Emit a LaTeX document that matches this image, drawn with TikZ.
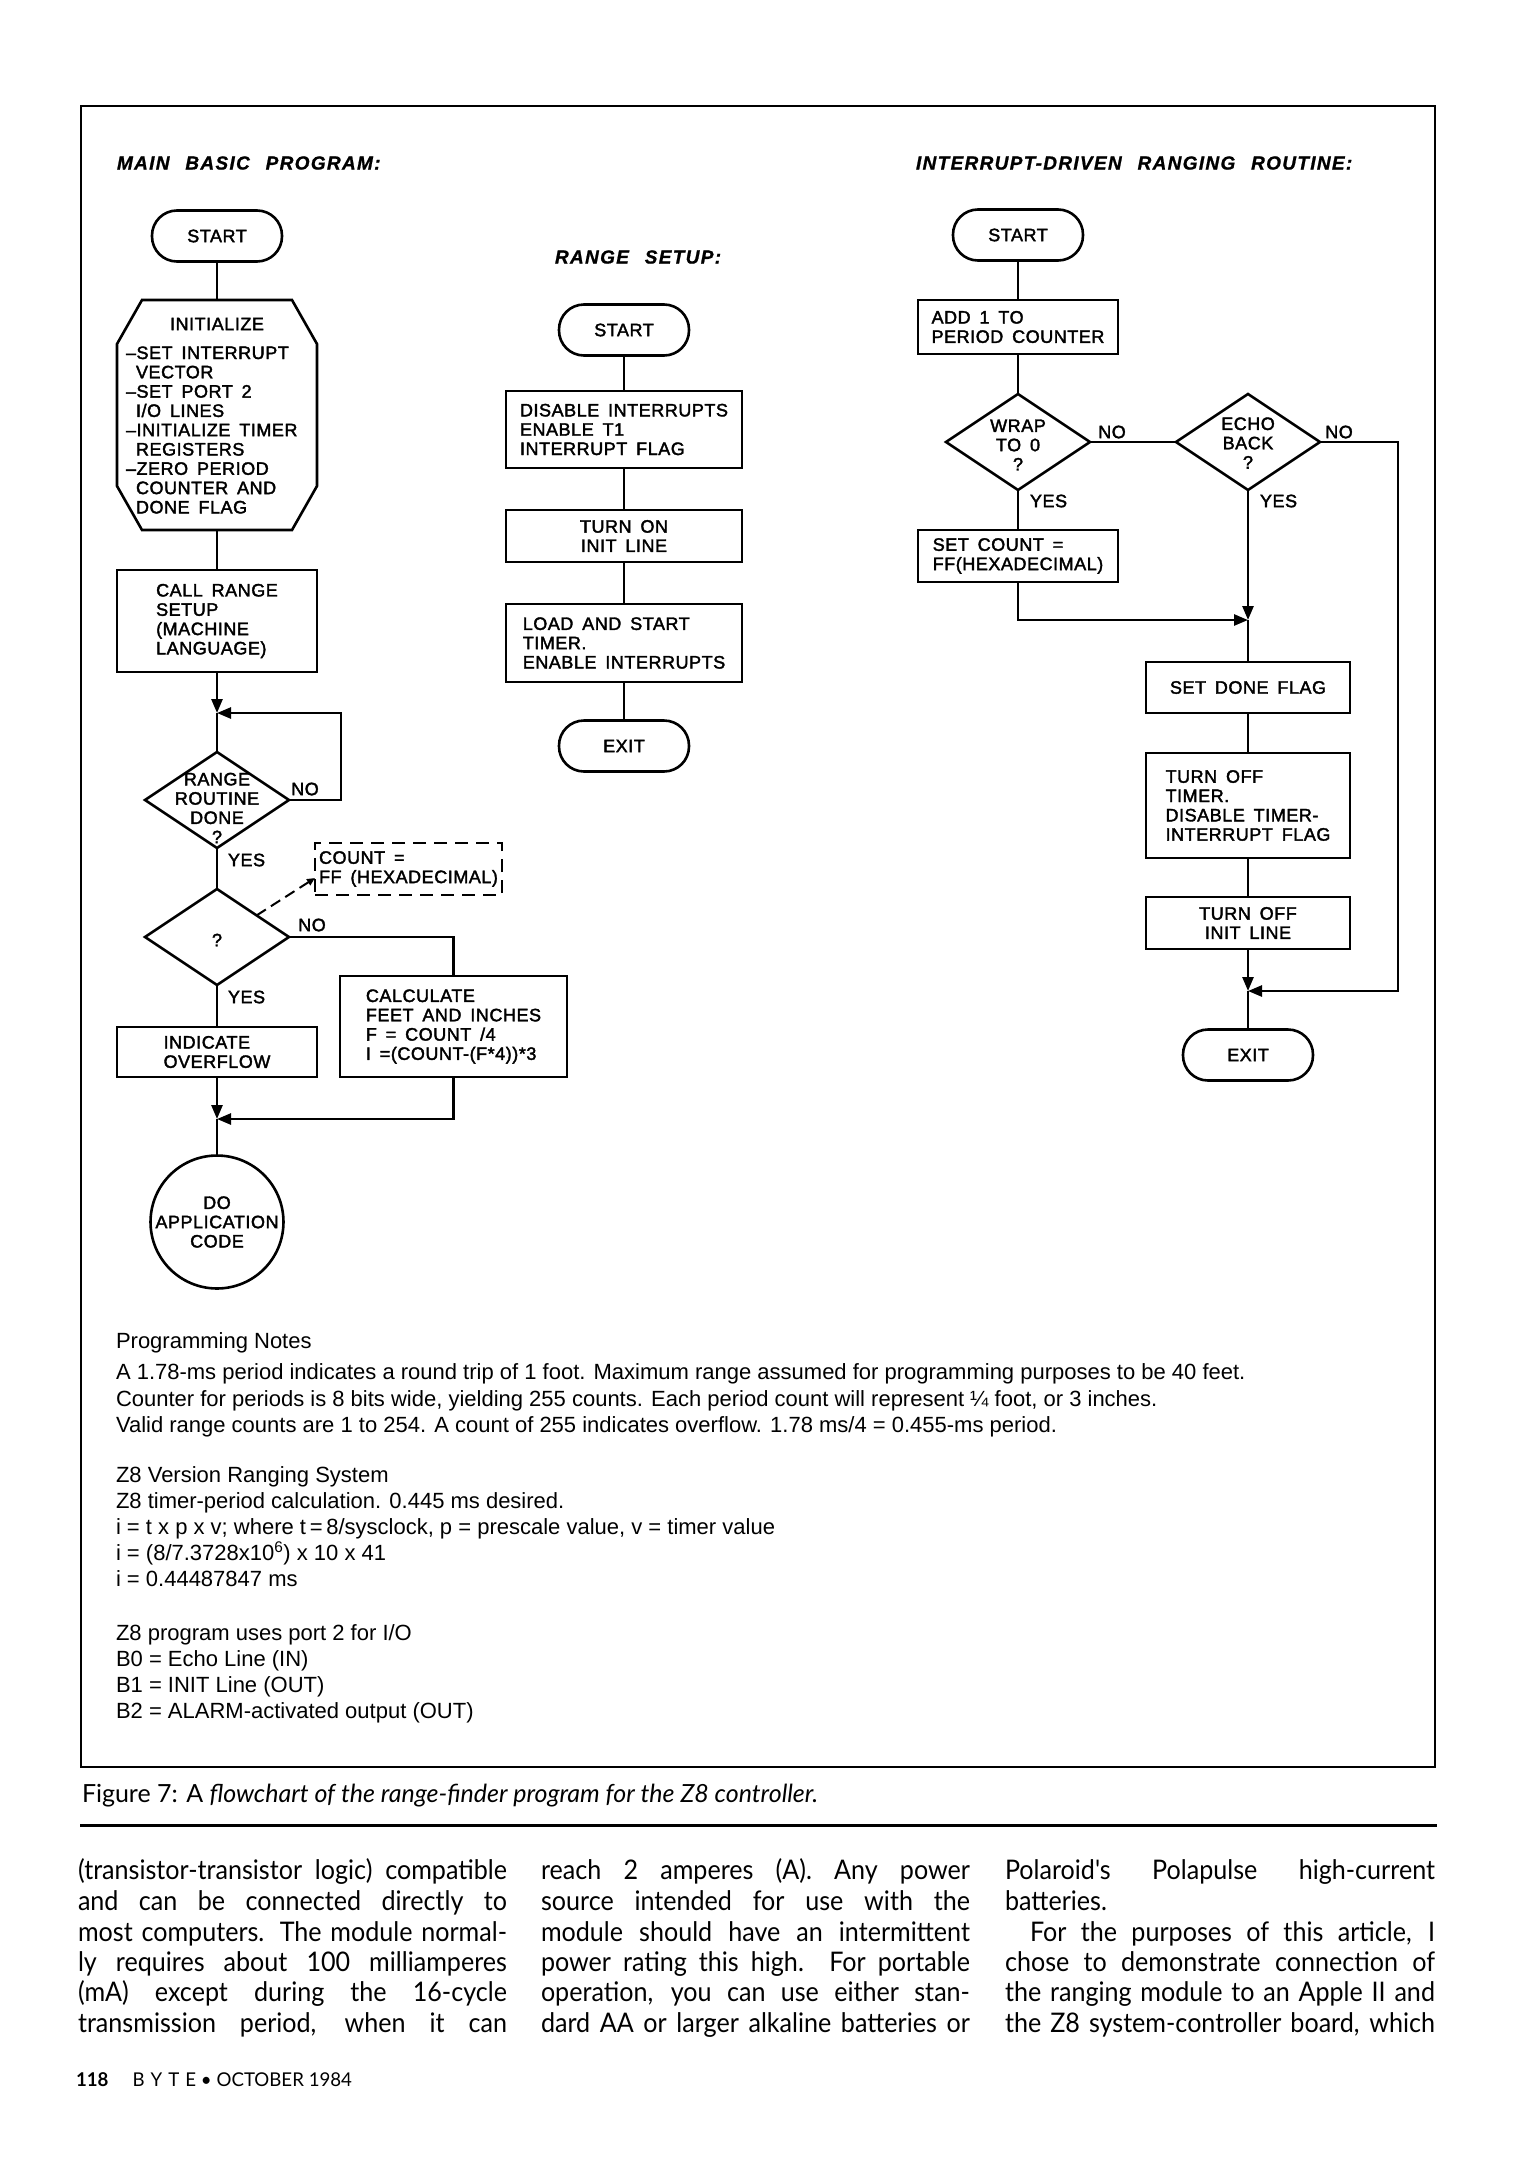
\documentclass[tikz,border=0pt]{standalone}
\usepackage{graphicx}
\usepackage{fontspec}
\setmainfont{Liberation Sans}
\newfontfamily\lrfont[LetterSpace=3,WordSpace=1.6,FakeBold=2]{Liberation Sans}
\newfontfamily\ttlfont[LetterSpace=7,WordSpace=2.4,FakeBold=1]{Liberation Sans}
\newfontfamily\notefont{Liberation Sans}
\newfontfamily\bodyfont[FakeStretch=0.93]{Lato}
\usetikzlibrary{shapes.geometric,arrows.meta,calc}
\newlength\fwl
\newcommand\fitw[2]{\settowidth\fwl{#2}\scalebox{\fpeval{(#1)/(\the\fwl)}}[1]{#2}}
\newcommand\jline[2]{\settowidth\fwl{#2}\ifdim\fwl>#1\relax\scalebox{\fpeval{(#1)/(\the\fwl)}}[1]{#2}\else\makebox[#1][s]{#2}\fi}
\tikzset{
 every node/.style={inner sep=0pt, outer sep=0pt},
 ln/.style={line width=2.6pt},
 lrf/.style={font=\lrfont\fontsize{18}{19.3}\selectfont},
 box/.style={draw, ln, rectangle, align=left, lrf},
 cbox/.style={box, align=center},
 term/.style={draw, ln, rectangle, rounded corners=25pt, minimum width=130pt, minimum height=51pt, lrf},
 dia/.style={draw, ln, diamond, minimum width=144pt, minimum height=96pt},
 lbl/.style={lrf, align=center},
 arr/.style={ln, -{Triangle[length=14pt,width=11pt]}},
 ttl/.style={font=\ttlfont\bfseries\itshape\fontsize{19}{20}\selectfont, anchor=west},
 note/.style={font=\notefont\fontsize{22}{24}\selectfont, anchor=base west},
 body/.style={font=\bodyfont\fontsize{27}{30}\selectfont, anchor=base west},
}
\begin{document}
\begin{tikzpicture}[x=1pt,y=-1pt]
\useasboundingbox (0,0) rectangle (1524,2160);
\fill[white] (0,0) rectangle (1524,2160);
\draw[line width=2.4pt] (81,106) rectangle (1435,1767);

% ---------- titles
\node[ttl] (ttl1) at (117,163) {MAIN BASIC PROGRAM:};
\node[ttl] (ttl2) at (555,257) {RANGE SETUP:};
\node[ttl] (ttl3) at (916,163) {INTERRUPT-DRIVEN RANGING ROUTINE:};

% ---------- main program
\node[term] (s1) at (217,236) {START};
\node[minimum width=200pt, minimum height=230pt] (init) at (217,415) {};
\draw[ln] ([xshift=25pt]init.north west) -- ([xshift=-25pt]init.north east) -- ([yshift=-44pt]init.north east) -- ([yshift=44pt]init.south east) -- ([xshift=-25pt]init.south east) -- ([xshift=25pt]init.south west) -- ([yshift=44pt]init.south west) -- ([yshift=-44pt]init.north west) -- cycle;
\node[lbl] (initT) at (217,324) {INITIALIZE};
\node[lbl, align=left, anchor=west] (initL) at (126,430) {–SET INTERRUPT\\\hphantom{–}VECTOR\\–SET PORT 2\\\hphantom{–}I/O LINES\\–INITIALIZE TIMER\\\hphantom{–}REGISTERS\\–ZERO PERIOD\\\hphantom{–}COUNTER AND\\\hphantom{–}DONE FLAG};
\node[box, minimum width=200pt, minimum height=102pt] (call) at (217,621) {CALL RANGE\\SETUP\\(MACHINE\\LANGUAGE)};
\coordinate (j1) at (217,713);
\coordinate (l1) at (341,713);
\node[dia] (d1) at (217,800) {};
\node[lbl] (d1t) at (217,808) {RANGE\\ROUTINE\\DONE\\?};
\node[lbl] (no1) at (305,789) {NO};
\node[lbl, anchor=west] (yes1) at (228,860) {YES};
\node[dia] (d2) at (217,937) {};
\node[lbl] (d2t) at (217,940) {?};
\node[lbl] (no2) at (312,925) {NO};
\node[lbl, anchor=west] (yes2) at (228,997) {YES};
\node[box, dashed, dash pattern=on 13pt off 8pt, line width=2.2pt, minimum width=187pt, minimum height=52pt] (cnt) at (408.5,869) {COUNT =\\FF (HEXADECIMAL)};
\node[box, minimum width=227pt, minimum height=101pt] (calc) at (453.5,1026.5) {CALCULATE\\FEET AND INCHES\\F = COUNT /4\\I =(COUNT-(F*4))*3};
\node[box, minimum width=200pt, minimum height=50pt] (ovf) at (217,1052) {INDICATE\\OVERFLOW};
\coordinate (j2) at (217,1119);
\node[circle, draw, ln, minimum size=126pt, lbl] (app) at (217,1222) {DO\\APPLICATION\\CODE};

\draw[ln] (s1.south) -- (init.north);
\draw[ln] (init.south) -- (call.north);
\draw[arr] (call.south) -- (j1);
\draw[ln] (j1) -- (d1.north);
\draw[arr] (d1.east) -| (l1) -- (j1);
\draw[ln] (d1.south) -- (d2.north);
\draw[ln] (d2.south) -- (ovf.north);
\draw[ln] (d2.east) -| (calc.north);
\draw[arr] (ovf.south) -- (j2);
\draw[ln] (j2) -- (app.north);
\draw[arr] (calc.south) |- (j2);
\draw[dashed, line width=2pt, dash pattern=on 11pt off 6pt, -{Triangle[length=8pt,width=7pt]}] ($(d2.north)!0.55!(d2.east)$) -- ([yshift=-9pt]cnt.west);

% ---------- range setup
\node[term] (s2) at (624,330) {START};
\node[box, minimum width=236pt, minimum height=77pt] (dis) at (624,429.5) {DISABLE INTERRUPTS\\ENABLE T1\\INTERRUPT FLAG};
\node[cbox, minimum width=236pt, minimum height=52pt] (ton) at (624,536) {TURN ON\\INIT LINE};
\node[box, minimum width=236pt, minimum height=78pt] (load) at (624,643) {LOAD AND START\\TIMER.\\ENABLE INTERRUPTS};
\node[term] (e2) at (624,746) {EXIT};
\draw[ln] (s2.south) -- (dis.north);
\draw[ln] (dis.south) -- (ton.north);
\draw[ln] (ton.south) -- (load.north);
\draw[ln] (load.south) -- (e2.north);

% ---------- interrupt routine
\node[term] (s3) at (1018,235) {START};
\node[box, minimum width=200pt, minimum height=54pt] (add) at (1018,327) {ADD 1 TO\\PERIOD COUNTER};
\node[dia] (wrap) at (1018,442) {};
\node[lbl] (wrapt) at (1018,445) {WRAP\\TO 0\\?};
\node[dia] (echo) at (1248,442) {};
\node[lbl] (echot) at (1248,443) {ECHO\\BACK\\?};
\node[lbl] (no3) at (1112,432) {NO};
\node[lbl] (no4) at (1339,432) {NO};
\node[lbl, anchor=west] (yes3) at (1030,501) {YES};
\node[lbl, anchor=west] (yes4) at (1260,501) {YES};
\node[box, minimum width=200pt, minimum height=52pt] (setc) at (1018,556) {SET COUNT =\\FF(HEXADECIMAL)};
\coordinate (j3) at (1248,620);
\node[cbox, minimum width=204pt, minimum height=51pt] (sdf) at (1248,687.5) {SET DONE FLAG};
\node[box, minimum width=204pt, minimum height=105pt] (toff) at (1248,805.5) {TURN OFF\\TIMER.\\DISABLE TIMER-\\INTERRUPT FLAG};
\node[cbox, minimum width=204pt, minimum height=52pt] (toi) at (1248,923) {TURN OFF\\INIT LINE};
\coordinate (j4) at (1248,991);
\coordinate (l4) at (1398,991);
\node[term] (e3) at (1248,1055) {EXIT};

\draw[ln] (s3.south) -- (add.north);
\draw[ln] (add.south) -- (wrap.north);
\draw[ln] (wrap.east) -- (echo.west);
\draw[ln] (wrap.south) -- (setc.north);
\draw[arr] (setc.south) |- (j3);
\draw[arr] (echo.south) -- (j3);
\draw[ln] (j3) -- (sdf.north);
\draw[ln] (sdf.south) -- (toff.north);
\draw[ln] (toff.south) -- (toi.north);
\draw[arr] (toi.south) -- (j4);
\draw[arr] (echo.east) -| (l4) -- (j4);
\draw[ln] (j4) -- (e3.north);

% ---------- notes
\node[note] (n1) at (116,1348) {Programming Notes};
\node[note] (n2) at (116,1379) {A 1.78-ms period indicates a round trip of 1 foot. Maximum range assumed for programming purposes to be 40 feet.};
\node[note] (n3) at (116,1406) {Counter for periods is 8 bits wide, yielding 255 counts. Each period count will represent ¼ foot, or 3 inches.};
\node[note] (n4) at (116,1432) {Valid range counts are 1 to 254. A count of 255 indicates overflow. 1.78 ms/4 = 0.455-ms period.};
\node[note] (n5) at (116,1482) {Z8 Version Ranging System};
\node[note] (n6) at (116,1508) {Z8 timer-period calculation. 0.445 ms desired.};
\node[note] (n7) at (116,1534) {i = t x p x v; where t\,=\,8/sysclock, p = prescale value, v = timer value};
\node[note] (n8) at (116,1560) {i = (8/7.3728x10\textsuperscript{6}) x 10 x 41};
\node[note] (n9) at (116,1586) {i = 0.44487847 ms};
\node[note] (n10) at (116,1640) {Z8 program uses port 2 for I/O};
\node[note] (n11) at (116,1666) {B0 = Echo Line (IN)};
\node[note] (n12) at (116,1692) {B1 = INIT Line (OUT)};
\node[note] (n13) at (116,1718) {B2 = ALARM-activated output (OUT)};

% ---------- caption and page text
\node[anchor=base west, font=\bodyfont\fontsize{25}{28}\selectfont] (cap) at (82,1802) {\fitw{736pt}{Figure 7: A \textit{flowchart of the range-finder program for the Z8 controller.}}};
\draw[line width=3pt] (80,1825) -- (1437,1825);

\node[body] (b11) at (78,1879) {\jline{429pt}{(transistor-transistor logic) compatible}};
\node[body] (b12) at (78,1910) {\jline{429pt}{and can be connected directly to}};
\node[body] (b13) at (78,1941) {\jline{429pt}{most computers. The module normal-}};
\node[body] (b14) at (78,1971) {\jline{429pt}{ly requires about 100 milliamperes}};
\node[body] (b15) at (78,2001) {\jline{429pt}{(mA) except during the 16-cycle}};
\node[body] (b16) at (78,2032) {\jline{429pt}{transmission period, when it can}};

\node[body] (b21) at (541,1879) {\jline{429pt}{reach 2 amperes (A). Any power}};
\node[body] (b22) at (541,1910) {\jline{429pt}{source intended for use with the}};
\node[body] (b23) at (541,1941) {\jline{429pt}{module should have an intermittent}};
\node[body] (b24) at (541,1971) {\jline{429pt}{power rating this high. For portable}};
\node[body] (b25) at (541,2001) {\jline{429pt}{operation, you can use either stan-}};
\node[body] (b26) at (541,2032) {\jline{429pt}{dard AA or larger alkaline batteries or}};

\node[body] (b31) at (1005,1879) {\jline{430pt}{Polaroid's Polapulse high-current}};
\node[body] (b32) at (1005,1910) {batteries.};
\node[body] (b33) at (1030,1941) {\jline{405pt}{For the purposes of this article, I}};
\node[body] (b34) at (1005,1971) {\jline{430pt}{chose to demonstrate connection of}};
\node[body] (b35) at (1005,2001) {\jline{430pt}{the ranging module to an Apple II and}};
\node[body] (b36) at (1005,2032) {\jline{430pt}{the Z8 system-controller board, which}};

\node[anchor=base west, font=\bodyfont\fontsize{19}{22}\selectfont] (foot) at (76,2086) {\fitw{276pt}{\textbf{118}\hspace{1.2em}B\hspace{0.3em}Y\hspace{0.3em}T\hspace{0.3em}E \textbullet{} OCTOBER 1984}};
\end{tikzpicture}
\end{document}
